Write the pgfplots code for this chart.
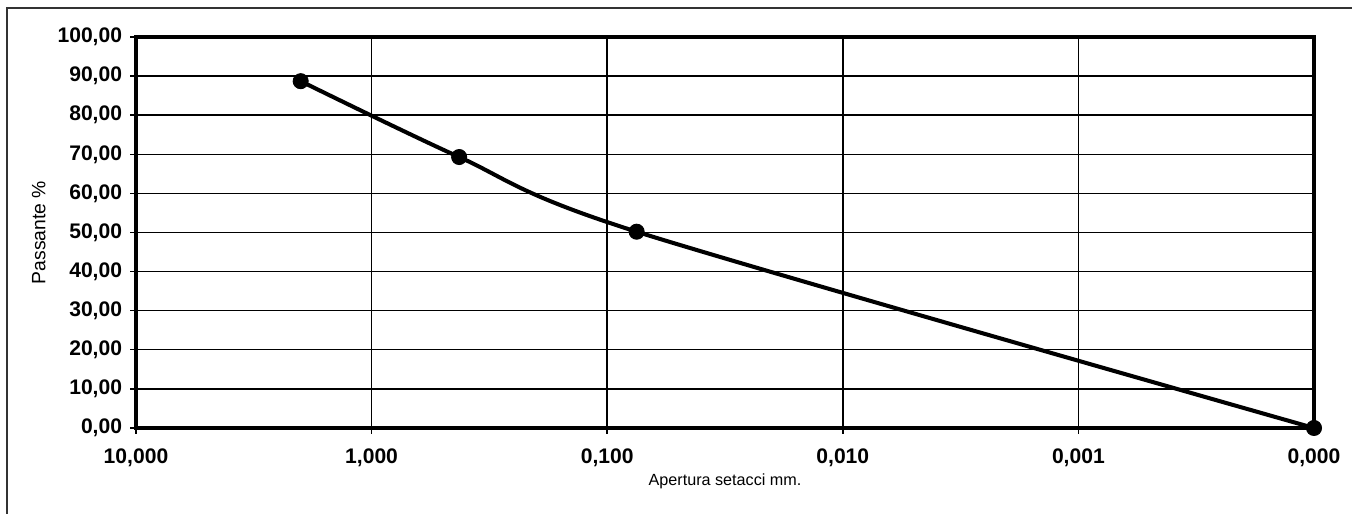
\documentclass[border=0pt]{standalone}
\usepackage{pgfplots}
\pgfplotsset{compat=1.18}
\usepackage{fontspec}
\setmainfont{Liberation Sans}
\begin{document}
\begin{tikzpicture}
\useasboundingbox (0,0) rectangle (27.04cm,10.28cm);
% outer frame (scan border)
\draw[line width=0.6pt, black!80] (0.14cm,0) -- (0.14cm,10.12cm) -- (27.04cm,10.12cm);
\begin{axis}[
  at={(2.72cm,1.72cm)}, anchor=south west,
  scale only axis,
  width=23.56cm, height=7.82cm,
  xmode=log, x dir=reverse,
  xmin=0.0001, xmax=10,
  ymin=0, ymax=100,
  xtick={10,1,0.1,0.01,0.001,0.0001},
  xticklabels={{10,000},{1,000},{0,100},{0,010},{0,001},{0,000}},
  ytick={0,10,...,100},
  yticklabels={{0,00},{10,00},{20,00},{30,00},{40,00},{50,00},{60,00},{70,00},{80,00},{90,00},{100,00}},
  minor xtick={},
  grid=major,
  major grid style={black, line width=0.8pt},
  axis line style={black, line width=2pt},
  tick style={black, line width=0.8pt},
  tick align=outside,
  major tick length=0.12cm,
  xtick pos=bottom, ytick pos=left,
  ticklabel style={font=\fontsize{12}{14}\selectfont\bfseries},
  xticklabel style={yshift=-5pt},
  yticklabel style={xshift=-1pt},
  xlabel={Apertura setacci mm.},
  ylabel={Passante \%},
  xlabel style={font=\fontsize{9.2}{11}\selectfont, yshift=3pt},
  ylabel style={font=\fontsize{11}{13}\selectfont, yshift=0pt},
  clip=false,
]
\addplot[black, line width=2.3pt, smooth, tension=0.5,
  mark=*, mark size=4.3pt, mark options={fill=black, line width=0.5pt}]
  coordinates {
  (2.0,88.7)
  (0.425,69.3)
  (0.075,50.2)
  (0.0001,0.0)
  };
\end{axis}
\end{tikzpicture}
\end{document}
